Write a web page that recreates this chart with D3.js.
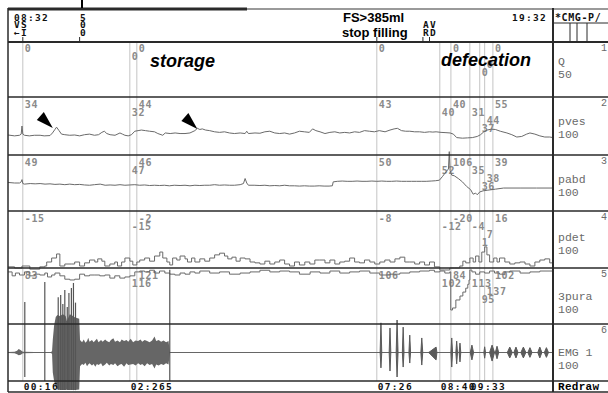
<!DOCTYPE html>
<html>
<head>
<meta charset="utf-8">
<script src="https://cdn.jsdelivr.net/npm/d3@7"></script>
<style>
  body { margin: 0; background: #fff; }
  svg { display: block; }
  .mono { font-family: "DejaVu Sans Mono", monospace; font-weight: bold; font-size: 9.5px; letter-spacing: 1.3px; }
  .read { font-family: "DejaVu Sans Mono", monospace; font-weight: bold; font-size: 10px; letter-spacing: 0.6px; fill: #8a8a8a; }
  .chan { font-family: "Liberation Mono", monospace; font-size: 11.5px; fill: #6a6a6a; }
</style>
</head>
<body>
<div id="chart"></div>
<script>
// channels shown on the right
const channels = ["Q", "pves", "pabd", "pdet", "3pura", "EMG 1"];
const channelRanges = ["50", "100", "100", "100", "100", "100"];
const channelNumbers = ["1", "2", "3", "4", "5", "6"];

// event markers (seconds) and the readouts printed next to them
const eventTimes = [16, 146, 154.5, 446, 522.5, 536, 559, 571, 577, 587];
const eventRows = [0, 1, 0, 0, 1, 0, 1, 3, 2, 0];
const qReadouts = ["0", "0", "0", "0", null, "0", null, "0", "0", "0"];
const pvesReadouts = ["34", "32", "44", "43", "40", "40", "31", "37", "44", "55"];
const pabdReadouts = ["49", "47", "46", "50", "52", "106", "35", "36", "38", "39"];
const pdetReadouts = ["-15", "-15", "-2", "-8", "-12", "-20", "-4", "1", "7", "16"];
const puraReadouts = ["83", "116", "121", "106", "102", "84", "113", "95", "137", "102"];

const timeLabels = [[16, "00:16"], [146, "02:265"], [446, "07:26"], [522.5, "08:40"], [559, "09:33"]];
const headerTicks = [16, 85, 446, 502, 510];

// pves, cmH2O  [t, value]
const pves = [[-2,34.5],[6,33],[12,34],[14,36],[15,50],[16,36],[18,34],[24,33],[30,34],[37,34],[42,33],[49,33.5],
  [52,38],[55,44],[57,48],[60,42],[63,36],[67,35],[73,34],[79,34.5],[85,33],[91,35],[97,36],[103,34],[108,35],
  [112,39],[115,41],[118,37],[122,35],[128,34],[134,38],[137,36],[140,34],[144,33],[148,35],[152,41],[156,42],
  [160,43],[165,42],[170,41],[176,40],[180,37],[186,34],[189,38],[195,37],[201,38],[207,37],[213,37],[219,38],
  [225,42],[228,46],[231,44],[234,45],[238,43],[243,42],[249,40],[255,39],[261,40],[267,38],[273,37],[280,38],
  [286,37],[288,41],[290,37],[298,38],[304,37.5],[310,40],[316,41],[322,38],[328,37],[334,38],[340,36],[346,38],
  [352,41],[358,40],[364,39],[368,45],[372,42],[377,40],[383,37],[389,39],[395,40],[401,38],[407,39],[413,38],
  [419,40],[425,39],[431,42],[437,41],[443,40],[449,42],[456,40],[462,43],[467,45],[471,46],[476,42],[481,41],
  [486,41],[492,40],[498,40],[504,39],[510,40],[514,39.5],[518,40],[524,39],[530,38.5],[535,38],[539,36],
  [543,30],[550,29],[556,29.5],[562,30],[568,32],[572,35],[576,40],[580,43],[585,44.5],[590,44],[596,41],
  [604,38],[610,35],[616,31],[622,32],[628,36],[632,38],[638,36],[644,33],[650,31],[656,31],[660,30]];

// pabd, cmH2O
const pabd = [[-2,51],[6,50],[12,50],[14,52],[15,56],[16,49],[18,48],[25,49],[31,48.5],[37,49],[43,48],[49,48.5],
  [55,47.5],[61,48],[67,47],[73,48],[79,47],[85,47.5],[91,46.5],[97,46],[103,47],[110,48],[116,46],[122,46.5],
  [128,46],[134,47],[140,46],[146,46.5],[152,47],[158,46],[164,46.5],[170,45.5],[176,46],[182,45.5],[188,46],
  [194,45],[200,46],[207,45.5],[213,46],[219,45],[225,46],[231,45.5],[237,46],[243,46],[249,47],[255,46],
  [261,46.5],[267,46],[273,46],[280,47],[284,49],[286,58],[288,50],[290,46],[297,46],[304,45.5],[310,46],
  [316,45],[322,45.5],[328,45],[334,46],[340,45],[346,45],[352,44.5],[358,45],[364,44.5],[370,44.5],[376,45],
  [382,44.5],[388,44.5],[392,45],[393,52],[398,53],[404,53.5],[410,53],[416,53],[422,53.5],[428,53],[434,53],
  [440,53.5],[446,53],[452,53.5],[458,53],[464,53],[470,53.5],[476,53],[482,53],[488,53],[494,53],[500,53],
  [506,53],[512,53.5],[517,54],[522,55],[526,62],[530,70],[533,75],[534,106],[535,72],[537,64],[540,63],
  [545,58],[550,52],[555,44],[560,38],[563,30],[566,32],[568,29],[571,34],[575,36],[580,37],[590,39],
  [600,41],[620,41],[640,41],[660,41]];

// pdet, cmH2O
const pdet = [[-2,-18],[6,-20],[15,-16.5],[24.5,-22],[36.6,-18],[42.7,-16.5],[45,-9.5],[51,-2.5],[57,4.6],
  [61,-16.5],[67,-13],[75.5,-13],[79,-9.5],[85,-16.5],[91,-11],[97,-6],[103.5,-9.5],[107,-4],[112,-8],
  [115.6,-16.5],[121.7,-13],[127.7,-9.5],[131,-16.5],[136,-9.5],[140,-2.5],[146,-8],[149.6,-14.7],[154.5,-9.5],
  [158,-6],[164,-2.5],[170,-8],[176,1],[182.4,8],[186,-2.5],[191,-9.5],[194.5,-14.7],[198,-2.5],[203,-6],
  [207,1],[213,-4],[216,-9.5],[221,-2.5],[225,-9.5],[231,-4],[237,-8],[243,-2.5],[249,3],[255,6],[261,1],
  [265,-4],[270,-1],[275,-8],[280,-2.5],[286,-4],[292,-9.5],[298,-11],[304,-13],[310,-8],[316,-13],[322,-9.5],
  [328,-6],[334,-13],[340,-16.5],[346,-9.5],[352,-14.7],[358.5,-9.5],[364.6,-13],[370.7,-6],[376.7,-6],
  [383,-11],[389,-6],[395,-13],[401,-9.5],[407,-8],[413,-2.5],[419,-9.5],[425,-11],[431,-6],[437.5,-9.5],
  [443.5,-13],[449.6,-9.5],[455.7,-6],[462,-9.5],[468,-4],[474,-1],[480,-9.5],[486,-9.5],[492,-13],[498,-9.5],
  [504,-14.7],[510,-9.5],[516,-18],[522.5,-23.5],[528.6,-23.5],[534.6,-20],[540.7,-20],[546.8,-16.5],
  [550.5,-8],[554,-11],[559,-2.5],[563,-9.5],[566,1],[570,-9.5],[573.5,8],[577,17],[579.7,3],[583,-9.5],
  [588,-2.5],[592,-9.5],[595,-2.5],[601.5,-9.5],[607.5,-13],[613.6,-11],[619.7,-9.5],[626,-13],[632,-16.5],
  [638,-9.5],[644,-6],[650,-4],[656,-11],[660,-16.5]];

// 3pura, cmH2O
const pura = [[-2,133],[3,126],[7,131],[12,127.5],[18,133],[24.5,126],[30.6,129],[36.6,127.5],[42.7,131],
  [46,124],[51,127.5],[55,131],[61,126],[67,120],[73,118.6],[79,120],[85,129],[91,126],[97,127.5],[103.5,127.5],
  [109.5,126],[115.6,127.5],[121.7,122],[127.7,126],[133.8,122],[140,124],[146,126],[152,133],[158,134.6],
  [164,133],[170,136],[176,131],[182,134.6],[188.5,131],[194.5,129],[200.6,127.5],[207,131],[213,129],
  [219,133],[225,131],[231,134.6],[243,131],[255,133],[267,129],[280,131],[292,133],[304,136],[316,133],
  [328,134.6],[340,133],[352,129],[365,133],[377,131],[389,134.6],[401,131],[413,133],[425,134.6],[437.5,131],
  [449.6,127.5],[462,129],[474,131],[486,133],[498,134.6],[510,136],[516,133],[522.5,134.6],[528.6,131],
  [534.6,133],[535.8,65],[538,68.6],[542,82.9],[547,90],[550.5,97],[554,104],[556.5,111],[558,118.6],
  [559,136.4],[561.5,133],[566,129],[571,133],[577,131],[583,134.6],[589,131],[595,129],[601.5,133],
  [607.5,134.6],[620,131],[632,133],[644,134.6],[660,133]];

// EMG envelope, storage phase  [t, high, low]
const emgBurst = [[-2,2,-2],[6,3,-3],[9,6,-6],[11,12,-10],[13.6,8,-8],[16,3,-3],[30,2,-2],[50,2,-2],[51.5,4,-4],
  [52.4,45,-70],[54,95,-100],[56,125,-118],[58,132,-128],[61,128,-132],[64.6,134,-132],[68,128,-132],
  [69.5,110,-130],[71,120,-132],[73,134,-132],[76,130,-132],[79,124,-132],[84.5,118,-130],[85.5,44,-48],
  [88,36,-40],[90,46,-44],[92,34,-36],[94,40,-48],[95.5,52,-42],[97,38,-38],[100,44,-46],[102,36,-40],
  [104,42,-50],[106,48,-40],[108,36,-44],[111,44,-38],[113,38,-48],[116,46,-42],[118,40,-36],[121,36,-46],
  [123,44,-40],[126,50,-44],[128,38,-38],[131,42,-48],[134,36,-42],[136,46,-40],[139,40,-50],[142,44,-38],
  [144,38,-44],[147,48,-42],[150,36,-40],[153,42,-46],[156,40,-38],[159,46,-44],[161,38,-40],[164,44,-48],
  [167,40,-38],[170,36,-44],[173,42,-40],[176,56,-56],[178,40,-42],[181,44,-46],[184,38,-40],[187,42,-44],
  [190,36,-38],[193,40,-42],[194.5,2,-2],[660,2,-2]];
// single EMG spikes  [t, high, low]
const emgSpikes = [[18.4,177,-86],[42.7,247,-100],[59,194,-132],[62,202,-132],[64.6,170,-132],[67,219,-132],
  [70,160,-132],[72,209,-132],[75,226,-132],[77.5,244,-132],[80,175,-132],[194.5,290,-100]];
// EMG bursts during defecation  [start, peak, end, high, low]
const emgSpindles = [[450,451,452,104,-54],[461,462,463,86,-65],[469.5,470.6,471.8,114,-86],[477,478,479,89,-51],
  [485,486,487,61,-37],[499.5,500.6,501.8,51,-44],[509,518,519,19,-26],[536,537,538,51,-51],
  [542,543,544,40,-40],[546,547,548,33,-33],[559.5,561.5,563.5,26,-26],[576,577,578,20,-20],
  [583,586,589,26,-30],[590,592,594,22,-22],[604.5,607.5,610.5,19,-19],[612.5,615,617.5,19,-19],
  [621,624,627,19,-19],[629.5,632,634.5,17,-17],[641.5,644,646.5,19,-19],[649.5,652,654.5,17,-17]];

const W = 608, H = 393;
const L = 8, R = 553;
const panelTops = [42, 97, 155, 211, 268, 324];
const plotBottom = 381;

const svg = d3.select("#chart").append("svg").attr("width", W).attr("height", H);

const x = d3.scaleLinear().domain([-2, 660]).range([L, R]);
const yPves = d3.scaleLinear().domain([0, 100]).range([155, 97]);
const yPabd = d3.scaleLinear().domain([0, 100]).range([211, 155]);
const yPdet = d3.scaleLinear().domain([-20, 80]).range([268, 211]);
const yPura = d3.scaleLinear().domain([40, 140]).range([324, 268]);
const yEmg = d3.scaleLinear().domain([-100, 100]).range([381, 324]);

// event lines
svg.append("g").selectAll("line").data(eventTimes).join("line")
  .attr("x1", d => x(d)).attr("x2", d => x(d))
  .attr("y1", 42).attr("y2", plotBottom)
  .attr("stroke", "#c4c4c4").attr("stroke-width", 1);

// readouts
const readouts = [qReadouts, pvesReadouts, pabdReadouts, pdetReadouts, puraReadouts];
const rowH = 8.3;
readouts.forEach((vals, ci) => {
  const top = panelTops[ci] + (ci === 0 ? 9.5 : 10.5);
  svg.append("g").selectAll("text").data(eventTimes).join("text")
    .attr("class", "read")
    .attr("x", d => x(d) + 2)
    .attr("y", (d, i) => top + eventRows[i] * rowH)
    .text((d, i) => vals[i] == null ? "" : vals[i]);
});

// traces
const line = (ys, curve) => d3.line().x(d => x(d[0])).y(d => ys(d[1])).curve(curve || d3.curveLinear);
const traceColor = "#6a6a6a";
svg.append("path").datum(pves).attr("d", line(yPves))
  .attr("fill", "none").attr("stroke", traceColor).attr("stroke-width", 1);
svg.append("path").datum(pabd).attr("d", line(yPabd))
  .attr("fill", "none").attr("stroke", traceColor).attr("stroke-width", 1);
svg.append("path").datum(pdet).attr("d", line(yPdet, d3.curveStepAfter))
  .attr("fill", "none").attr("stroke", traceColor).attr("stroke-width", 1);
svg.append("path").datum(pura).attr("d", line(yPura, d3.curveStepAfter))
  .attr("fill", "none").attr("stroke", traceColor).attr("stroke-width", 1);

// EMG
svg.append("line").attr("x1", x(-2)).attr("x2", x(660))
  .attr("y1", yEmg(0)).attr("y2", yEmg(0)).attr("stroke", "#777");
svg.append("path").datum(emgBurst)
  .attr("d", d3.area().x(d => x(d[0])).y0(d => yEmg(d[2])).y1(d => yEmg(d[1])))
  .attr("fill", "#666");
svg.append("g").selectAll("line").data(emgSpikes).join("line")
  .attr("x1", d => x(d[0])).attr("x2", d => x(d[0]))
  .attr("y1", d => yEmg(d[1])).attr("y2", d => yEmg(d[2]))
  .attr("stroke", "#555").attr("stroke-width", 1.2);
svg.append("g").selectAll("path").data(emgSpindles).join("path")
  .attr("d", d => `M${x(d[0])},${yEmg(0)}L${x(d[1])},${yEmg(d[3])}L${x(d[2])},${yEmg(0)}L${x(d[1])},${yEmg(d[4])}Z`)
  .attr("fill", "#5a5a5a").attr("stroke", "#5a5a5a").attr("stroke-width", 1);

// arrowheads at the two pves contractions
const arrowTips = [[52.4, 46.5], [228, 45]];
svg.append("g").selectAll("path").data(arrowTips).join("path")
  .attr("d", d => {
    const tx = x(d[0]), ty = yPves(d[1]);
    return `M${tx},${ty}L${tx - 16},${ty - 8}L${tx - 9},${ty - 16}Z`;
  })
  .attr("fill", "#000");

// frame
const frame = svg.append("g").attr("stroke", "#2a2a2a");
frame.append("line").attr("x1", L).attr("x2", 247).attr("y1", 9).attr("y2", 9).attr("stroke-width", 3);
frame.append("line").attr("x1", 247).attr("x2", W).attr("y1", 9).attr("y2", 9).attr("stroke-width", 2).attr("stroke", "#9a9a9a");
frame.append("line").attr("x1", 82).attr("x2", 82).attr("y1", 0).attr("y2", 8).attr("stroke-width", 2).attr("stroke", "#000");
frame.append("line").attr("x1", L).attr("x2", L).attr("y1", 8).attr("y2", 392).attr("stroke-width", 1.5);
frame.append("line").attr("x1", R).attr("x2", R).attr("y1", 8).attr("y2", 392).attr("stroke-width", 2);
frame.append("line").attr("x1", L).attr("x2", W).attr("y1", 42).attr("y2", 42).attr("stroke-width", 2);
frame.append("line").attr("x1", R).attr("x2", W).attr("y1", 23).attr("y2", 23).attr("stroke-width", 1);
[570, 577, 587].forEach(v => frame.append("line").attr("x1", v).attr("x2", v).attr("y1", 23).attr("y2", 42).attr("stroke-width", 1));
panelTops.slice(1).concat([plotBottom]).forEach(v =>
  frame.append("line").attr("x1", L).attr("x2", W).attr("y1", v).attr("y2", v).attr("stroke-width", 1.5));
frame.append("line").attr("x1", L).attr("x2", W).attr("y1", 392).attr("y2", 392).attr("stroke-width", 1.5);

// header ticks
frame.selectAll(".ht").data(headerTicks).join("line").attr("class", "ht")
  .attr("x1", d => x(d)).attr("x2", d => x(d)).attr("y1", 37).attr("y2", 42).attr("stroke-width", 1);

// header text
const head = svg.append("g").attr("class", "mono").attr("fill", "#111");
head.append("text").attr("x", 14).attr("y", 20.5).text("08:32");
head.append("text").attr("x", 14).attr("y", 28).text("VS");
head.append("text").attr("x", 14).attr("y", 35.5).text("\u2190I");
head.append("text").attr("x", 80).attr("y", 20.5).text("5");
head.append("text").attr("x", 80).attr("y", 28).text("0");
head.append("text").attr("x", 80).attr("y", 35.5).text("0");
head.append("text").attr("x", 423).attr("y", 28).text("AV");
head.append("text").attr("x", 423).attr("y", 35.5).text("RD");
head.append("text").attr("x", 512).attr("y", 21).text("19:32");
head.append("text").attr("x", 555).attr("y", 21).attr("style", "letter-spacing:0.6px;font-size:10px").text("*CMG-P/");

const sans = "font-family:'Liberation Sans',Arial,sans-serif;font-weight:bold;";
svg.append("text").attr("x", 343).attr("y", 22).attr("style", sans + "font-size:13px").text("FS>385ml");
svg.append("text").attr("x", 342).attr("y", 37).attr("style", sans + "font-size:13px").text("stop filling");
svg.append("text").attr("x", 150).attr("y", 67).attr("style", sans + "font-size:18px;font-style:italic").text("storage");
svg.append("text").attr("x", 441).attr("y", 66).attr("style", sans + "font-size:18px;font-style:italic").text("defecation");

// right panel channel labels
const nameY = [65, 125, 183, 241, 300, 356];
channels.forEach((c, i) => {
  svg.append("text").attr("class", "chan").attr("x", 558).attr("y", nameY[i]).text(c);
  svg.append("text").attr("class", "chan").attr("x", 558).attr("y", nameY[i] + 13).text(channelRanges[i]);
  svg.append("text").attr("class", "chan").attr("x", 601).attr("y", panelTops[i] + 9)
    .attr("style", "font-size:10px").text(channelNumbers[i]);
});

// bottom time bar
svg.append("g").attr("class", "mono").attr("fill", "#111").selectAll("text").data(timeLabels).join("text")
  .attr("x", d => x(d[0]) + 1).attr("y", 390).text(d => d[1]);
svg.append("text").attr("class", "mono").attr("x", 558).attr("y", 390)
  .attr("style", "letter-spacing:0.3px;font-family:'Liberation Mono',monospace;font-size:11px").text("Redraw");
</script>
</body>
</html>
